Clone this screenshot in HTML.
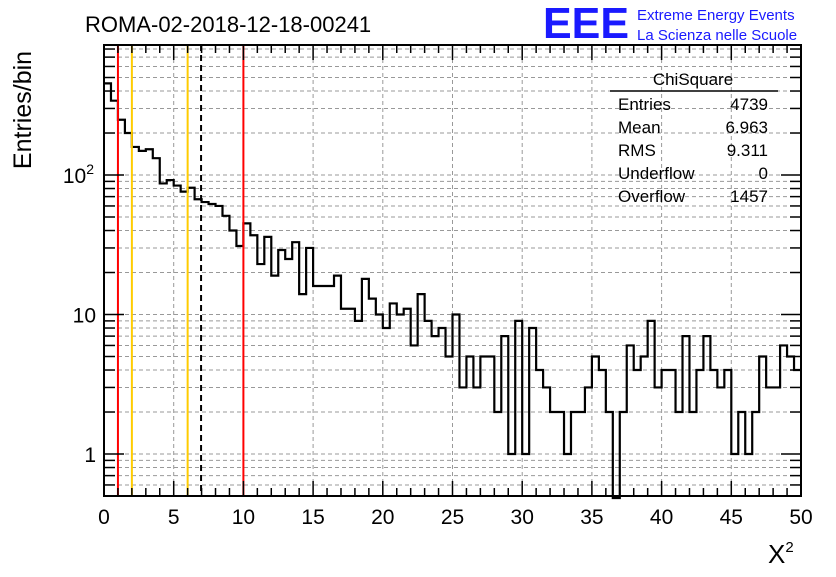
<!DOCTYPE html>
<html><head><meta charset="utf-8"><style>
body{margin:0;background:#fff;}
svg text{font-family:"Liberation Sans",sans-serif;}
</style></head><body>
<svg id="c" width="836" height="572" xmlns="http://www.w3.org/2000/svg">
<rect width="836" height="572" fill="#fff"/>
<text x="85" y="32" font-size="22">ROMA-02-2018-12-18-00241</text>
<text x="543" y="38" font-size="44" font-weight="bold" fill="#1a1aff" textLength="86" lengthAdjust="spacingAndGlyphs">EEE</text>
<text x="637" y="20" font-size="15" fill="#1a1aff">Extreme Energy Events</text>
<text x="637" y="40" font-size="15" fill="#1a1aff">La Scienza nelle Scuole</text>
<text transform="translate(31,110) rotate(-90)" font-size="25" text-anchor="middle">Entries/bin</text>
<text x="768" y="563" font-size="26" font-family="Liberation Serif,serif">X<tspan font-size="15" dy="-11">2</tspan></text>
<g id="grid"></g><g id="marks"></g><g id="axes"></g>
<g font-size="17">
<text x="693" y="85" text-anchor="middle">ChiSquare</text>
<line x1="610" y1="91" x2="778" y2="91" stroke="#000" stroke-width="1.5"/>
<text x="618" y="110">Entries</text><text x="768" y="110" text-anchor="end">4739</text>
<text x="618" y="133">Mean</text><text x="768" y="133" text-anchor="end">6.963</text>
<text x="618" y="156">RMS</text><text x="768" y="156" text-anchor="end">9.311</text>
<text x="618" y="179">Underflow</text><text x="768" y="179" text-anchor="end">0</text>
<text x="618" y="202">Overflow</text><text x="768" y="202" text-anchor="end">1457</text>
</g>
</svg>
<script>
const binWidth = 0.5;
const counts = [454,341,249,200,159,149,153,132,87,92,84,76,81,67,64,62,60,51,40,31,45,37,23,36,19,
29,25,33,14,30,16,16,16,19,11,11,9,18,13,10,8,12,10,11,6,14,9,7,8,5,
10,3,5,3,5,5,2,7,1,9,1,8,4,3,2,2,1,2,2,3,5,4,2,0,2,6,4,5,9,3,
4,4,2,7,2,4,7,4,3,4,1,2,1,2,5,3,3,6,5,4];
const xTicks = [0,5,10,15,20,25,30,35,40,45,50];
const yTickVals = [1,10,100];
const yTickLabels = ["1","10","10²"];
const cutLines = [{v:1,c:"#f00"},{v:2,c:"#fc0"},{v:6,c:"#fc0"},{v:10,c:"#f00"}];
const meanVal = 6.963;

const L=104,R=801,T=45,B=496,xmin=0,xmax=50,ymin=0.5,ymax=855;
const X=v=>L+(v-xmin)/(xmax-xmin)*(R-L);
const Y=v=>B-(Math.log10(v)-Math.log10(ymin))/(Math.log10(ymax)-Math.log10(ymin))*(B-T);
const NS="http://www.w3.org/2000/svg";
function mk(p,tag,a){const e=document.createElementNS(NS,tag);for(const k in a)e.setAttribute(k,a[k]);p.appendChild(e);return e;}
const grid=document.getElementById('grid'),marks=document.getElementById('marks'),axes=document.getElementById('axes');
// grid
for(const t of xTicks){if(t===xmin||t===xmax)continue;
 const g=mk(grid,'line',{x1:X(t),x2:X(t),y1:T,y2:B,stroke:'#999','stroke-dasharray':'4,3'});
 
 }
for(let d=0.1;d<=100;d*=10)for(let m=1;m<=9;m++){const v=Math.round(d*m*100)/100;if(v<ymin||v>ymax)continue;
 const g=mk(grid,'line',{x1:L,x2:R,y1:Y(v),y2:Y(v),stroke:'#999','stroke-dasharray':'4,3'});
 
 
 const tl=m===1?20:11;
 const a=mk(axes,'line',{x1:L,x2:L+tl,y1:Y(v),y2:Y(v),stroke:'#000','stroke-width':1.5});
 
 
 const b=mk(axes,'line',{x1:R,x2:R-tl,y1:Y(v),y2:Y(v),stroke:'#000','stroke-width':1.5});
 
 }
// histogram
let d='';const yb=v=>v>0?Y(v):B+2;
counts.forEach((c,i)=>{const x0=X(i*binWidth),x1=X((i+1)*binWidth);d+=(i?'L':'M')+x0+','+yb(c)+'L'+x1+','+yb(c);});
const h=mk(marks,'path',{d:d,fill:'none',stroke:'#000','stroke-width':2.2});


for(const c of cutLines){const l=mk(marks,'line',{x1:X(c.v),x2:X(c.v),y1:T,y2:B,stroke:c.c,'stroke-width':2});
 
 }
const ml=mk(marks,'line',{x1:X(meanVal),x2:X(meanVal),y1:T,y2:B,stroke:'#000','stroke-width':2,'stroke-dasharray':'6,4'});


// frame
const fr=mk(axes,'rect',{x:L,y:T,width:R-L,height:B-T,fill:'none',stroke:'#000','stroke-width':2});


for(let v=xmin;v<=xmax;v+=1){const maj=v%5===0,tl=maj?15:8;
 const a=mk(axes,'line',{x1:X(v),x2:X(v),y1:B,y2:B-tl,stroke:'#000','stroke-width':1.5});
 
 
 const b=mk(axes,'line',{x1:X(v),x2:X(v),y1:T,y2:T+tl,stroke:'#000','stroke-width':1.5});
 
 }
for(const t of xTicks){const tx=mk(axes,'text',{x:X(t),y:524,'font-size':21,'text-anchor':'middle'});tx.textContent=t;
 
 }
yTickVals.forEach((v,i)=>{const tx=mk(axes,'text',{x:96,y:Y(v)+8,'font-size':21,'text-anchor':'end'});
 if(yTickLabels[i]==="10²"){tx.textContent='10';const s=mk(tx,'tspan',{'font-size':14,dy:-9});s.textContent='2';tx.setAttribute('x',94);}
 else tx.textContent=yTickLabels[i];
 
 });
</script>
</body></html>
